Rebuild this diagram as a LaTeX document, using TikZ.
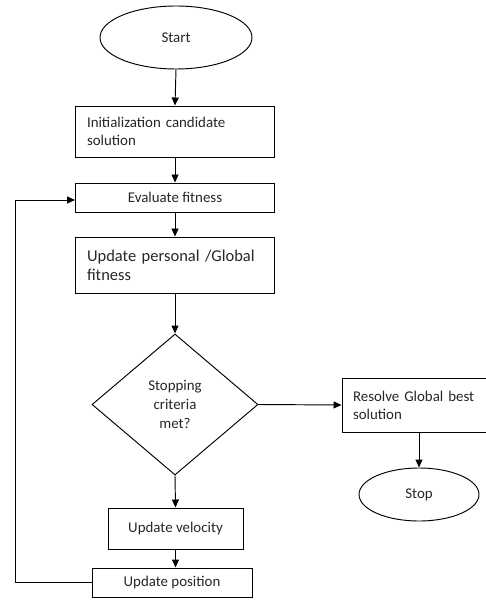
\documentclass[tikz,border=0pt]{standalone}
\usepackage{fontspec}
\setmainfont{Carlito}
\usetikzlibrary{shapes.geometric,arrows.meta}
\begin{document}
\begin{tikzpicture}[x=1pt,y=1pt,
  every node/.style={text=black!85, font=\fontsize{14.9}{18}\selectfont},
  boxnode/.style={draw, line width=0.95pt, rectangle, inner sep=0pt},
  ovalnode/.style={draw, line width=0.95pt, ellipse, inner sep=0pt},
  decnode/.style={draw, line width=0.95pt, diamond, inner sep=0pt, align=center},
  conn/.style={line width=0.95pt, -{Triangle[length=8pt,width=7pt]}}
]
\useasboundingbox (0,0) rectangle (485,-601);
\node[ovalnode, minimum width=152, minimum height=63] (start) at (176,-37.5) {Start};
\node[boxnode, minimum width=199, minimum height=51, text width=176, align=left] (init) at (175,-131.5) {Initialization candidate\\solution};
\node[boxnode, minimum width=199, minimum height=29] (eval) at (175,-197.5) {Evaluate fitness};
\node[boxnode, minimum width=199, minimum height=56, text width=176, align=left, font=\fontsize{16.5}{19}\selectfont] (upd) at (175,-265) {Update personal /Global\\fitness};
\node[decnode, minimum width=166, minimum height=141, font=\fontsize{14.9}{19}\selectfont] (dec) at (175,-404.5) {Stopping\\criteria\\met?};
\node[boxnode, minimum width=144, minimum height=54, text width=122, align=left] (res) at (414,-405) {Resolve Global best\\solution};
\node[ovalnode, minimum width=120, minimum height=53] (stop) at (419,-494.5) {Stop};
\node[boxnode, minimum width=135, minimum height=41] (vel) at (175.5,-528.5) {Update velocity};
\node[boxnode, minimum width=160, minimum height=29] (pos) at (172,-582.5) {Update position};
\coordinate (lp) at (15,-200);
\draw[conn] (start.south) -- (init.north);
\draw[conn] (init.south) -- (eval.north);
\draw[conn] (eval.south) -- (upd.north);
\draw[conn] (upd.south) -- (dec.north);
\draw[conn] (dec.east) -- (res.west);
\draw[conn] (stop.north |- res.south) -- (stop.north);
\draw[conn] (dec.south) -- (vel.north);
\draw[conn] (vel.south) -- (vel.south |- pos.north);
\draw[conn] (pos.west) -| (lp) -- (lp -| eval.west);
\end{tikzpicture}
\end{document}
